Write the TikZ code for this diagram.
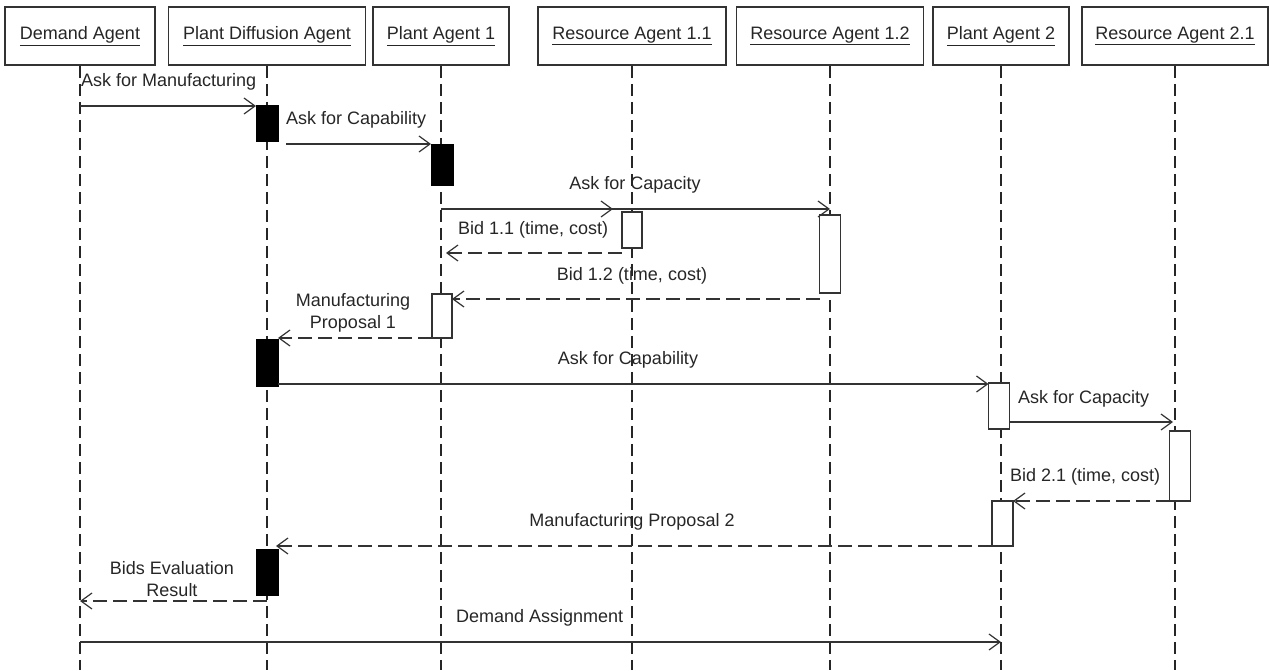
\documentclass[tikz,border=0pt]{standalone}
\usepackage{fontspec}
\setmainfont{Liberation Sans}
\usetikzlibrary{arrows.meta}
\begin{document}
\begin{tikzpicture}[x=1pt,y=-1pt,
  fnt/.style={font=\fontsize{18}{22}\selectfont},
  head/.style={draw=black!80, line width=1.6pt, minimum height=58pt, inner sep=0pt, fnt, text=black!85},
  life/.style={draw=black!85, line width=1.3pt, dash pattern=on 12pt off 6pt},
  actB/.style={draw=black, fill=black, line width=1pt, minimum width=22pt, inner sep=0pt, outer sep=0pt},
  actW/.style={draw=black!80, fill=white, line width=1.4pt, minimum width=21pt, inner sep=0pt, outer sep=0pt},
  msg/.style={draw=black!80, line width=1.3pt, -{Straight Barb[length=11pt,width=16pt,line width=1.2pt]}},
  reply/.style={msg, dash pattern=on 14pt off 6pt},
  lbl/.style={fnt, text=black!85, inner sep=0pt, align=center, yshift=-2pt}]
\useasboundingbox (0,0) rectangle (1269,670);
% headers
\node[head, minimum width=150pt] (h1) at (80,36) {\underline{Demand Agent}};
\node[head, minimum width=197pt] (h2) at (267,36) {\underline{Plant Diffusion Agent}};
\node[head, minimum width=136pt] (h3) at (441,36) {\underline{Plant Agent 1}};
\node[head, minimum width=188pt] (h4) at (632,36) {\underline{Resource Agent 1.1}};
\node[head, minimum width=187pt] (h5) at (830,36) {\underline{Resource Agent 1.2}};
\node[head, minimum width=136pt] (h6) at (1001,36) {\underline{Plant Agent 2}};
\node[head, minimum width=186pt] (h7) at (1175,36) {\underline{Resource Agent 2.1}};
% lifelines
\coordinate (bot) at (0,670);
\foreach \h in {h1,h2,h3,h4,h5,h6,h7} {\draw[life] (\h.south) -- (\h |- bot);}
% activations
\node[actB, minimum height=36pt] (a1) at (267,123) {};
\node[actB, minimum height=41pt] (a2) at (442,164.5) {};
\node[actW, minimum height=36pt, minimum width=20pt] (a3) at (632,230) {};
\node[actW, minimum height=78pt] (a4) at (830,254) {};
\node[actW, minimum height=44pt, minimum width=20pt] (a5) at (442,316) {};
\node[actB, minimum height=47pt] (a6) at (267,362.5) {};
\node[actW, minimum height=46pt] (a7) at (999,406) {};
\node[actW, minimum height=70pt] (a8) at (1180,466) {};
\node[actW, minimum height=45pt] (a9) at (1002.5,523.5) {};
\node[actB, minimum height=46pt] (a10) at (267,572) {};
% message endpoints
\coordinate (m2s) at (286,144);
% messages
\draw[msg] (h1 |- 0,106) -- (a1.west |- 0,106);
\draw[msg] (m2s) -- (a2.west |- m2s);
\draw[msg, shorten >=9pt] (h3 |- 0,209) -- (a3.west |- 0,209);
\draw[msg] (h3 |- 0,209) -- (h5 |- 0,209);
\draw[reply, shorten >=5pt] (a3.west |- 0,253) -- (h3 |- 0,253);
\draw[reply] (a4.west |- 0,299) -- (a5.east |- 0,299);
\draw[reply] (a5.south west) -- (a6.east |- a5.south);
\draw[msg] (a6.east |- 0,384) -- (a7.west |- 0,384);
\draw[msg, shorten >=2pt] (a7.east |- 0,422) -- (h7 |- 0,422);
\draw[reply] (a8.south west) -- (a9.north east);
\draw[reply, shorten >=-2pt] (a9.south west) -- (a10.east |- a9.south);
\draw[reply] (h2 |- 0,601) -- (h1 |- 0,601);
\draw[msg] (h1 |- 0,642) -- (h6 |- 0,642);
% labels
\node[lbl, anchor=west] (l1) at (81,80) {Ask for Manufacturing};
\node[lbl, anchor=west] (l2) at (286,118) {Ask for Capability};
\node[lbl] (l3) at (635,183) {Ask for Capacity};
\node[lbl, anchor=west] (l4) at (458,228) {Bid 1.1 (time, cost)};
\node[lbl] (l5) at (632,274) {Bid 1.2 (time, cost)};
\node[lbl] (l6) at (353,311) {Manufacturing\\Proposal 1};
\node[lbl] (l7) at (628,358) {Ask for Capability};
\node[lbl, anchor=west] (l8) at (1018,397) {Ask for Capacity};
\node[lbl, anchor=west] (l9) at (1010,475) {Bid 2.1 (time, cost)};
\node[lbl] (l10) at (632,520) {Manufacturing Proposal 2};
\node[lbl] (l11) at (172,577) {Bids Evaluation\\Result};
\node[lbl, anchor=west] (l12) at (456,616) {Demand Assignment};
\end{tikzpicture}
\end{document}
